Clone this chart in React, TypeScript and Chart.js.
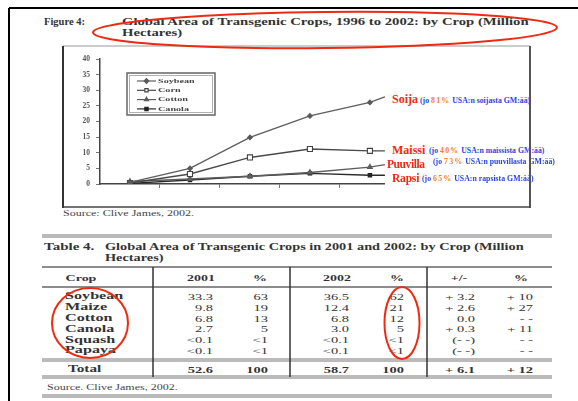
import React, { useEffect, useRef } from "react";
import { Chart, registerables } from "chart.js";
import { drawPoint } from "chart.js/helpers";
Chart.register(...registerables);

// ---- chart data ----
const years = [1996, 1997, 1998, 1999, 2000];
const lineEndYear = 2000.25; // lines run on to the axis end
const seriesNames = ["Soybean", "Corn", "Cotton", "Canola"];
const soybean = [0.5, 5.0, 14.9, 21.8, 26.1, 27.9];
const corn = [0.3, 3.2, 8.5, 11.2, 10.6, 10.6];
const cotton = [0.8, 1.6, 2.5, 3.7, 5.4, 6.2];
const canola = [0.2, 1.3, 2.5, 3.4, 2.8, 2.8];
const yMax = 40;
const yStep = 5;

// ---- annotation data ----
const annNames = ["Soija", "Maissi", "Puuvilla", "Rapsi"];
const annPct = ["81", "40", "73", "65"];
const annWords = ["soijasta", "maissista", "puuvillasta", "rapsista"];

// ---- table data ----
const tableCrops = ["Soybean", "Maize", "Cotton", "Canola", "Squash", "Papaya"];
const area2001 = ["33.3", "9.8", "6.8", "2.7", "<0.1", "<0.1"];
const pct2001 = ["63", "19", "13", "5", "<1", "<1"];
const area2002 = ["36.5", "12.4", "6.8", "3.0", "<0.1", "<0.1"];
const pct2002 = ["62", "21", "12", "5", "<1", "<1"];
const changeAbs = ["+ 3.2", "+ 2.6", "0.0", "+ 0.3", "(- -)", "(- -)"];
const changePct = ["+ 10", "+ 27", "- -", "+ 11", "- -", "- -"];
const totalRow = ["Total", "52.6", "100", "58.7", "100", "+ 6.1", "+ 12"];
const headers = ["Crop", "2001", "%", "2002", "%", "+/-", "%"];

const SERIF = "'Liberation Serif', 'Times New Roman', serif";
const RED = "#ee2a12";
const BLUE = "#2a46e0";
const ORANGE = "#ff7a22";

type TP = {
  x: number; y: number; s: number; w?: number; c?: string; sx?: number;
  a?: "left" | "center" | "right"; ls?: string | number; f?: string; children: any;
};
function T({ x, y, s, w = 700, c = "#222", sx = 1, a = "left", ls, f = SERIF, children }: TP) {
  const tx = a === "center" ? "translateX(-50%) " : a === "right" ? "translateX(-100%) " : "";
  return (
    <div
      style={{
        position: "absolute", left: x, top: y - s * 0.6, fontSize: s, lineHeight: `${s * 1.2}px`,
        fontWeight: w, color: c, fontFamily: f, whiteSpace: "nowrap",
        transform: `${tx}scaleX(${sx})`, transformOrigin: a === "center" ? "center" : a === "right" ? "right" : "left",
        letterSpacing: ls,
      }}
    >
      {children}
    </div>
  );
}

const insetLegend = {
  id: "insetLegend",
  afterDatasetsDraw(chart: any) {
    const { ctx, chartArea } = chart;
    const x0 = chartArea.left + 27, y0 = chartArea.top + 14, w = 88, h = 42;
    ctx.save();
    ctx.strokeStyle = "#666"; ctx.lineWidth = 1.5; ctx.strokeRect(x0, y0, w, h);
    ctx.strokeStyle = "#b0b0b0"; ctx.lineWidth = 1; ctx.strokeRect(x0 + 2.5, y0 + 2.5, w - 5, h - 5);
    chart.data.datasets.forEach((ds: any, i: number) => {
      const yy = y0 + 8 + i * 9.3;
      ctx.strokeStyle = ds.borderColor; ctx.lineWidth = 1.2;
      ctx.beginPath(); ctx.moveTo(x0 + 10, yy); ctx.lineTo(x0 + 29, yy); ctx.stroke();
      ctx.fillStyle = ds.pointBackgroundColor; ctx.strokeStyle = ds.pointBorderColor;
      drawPoint(ctx, { pointStyle: ds.pointStyle, radius: 2.3, borderWidth: 1, rotation: 0 } as any, x0 + 19.5, yy);
      ctx.save();
      ctx.translate(x0 + 31, yy);
      ctx.scale(1.45, 1);
      ctx.fillStyle = "#444"; ctx.font = `bold 7px ${SERIF}`; ctx.textBaseline = "middle";
      ctx.fillText(ds.label, 0, 0);
      ctx.restore();
    });
    ctx.restore();
  },
};

function LineChart() {
  const ref = useRef<HTMLCanvasElement>(null);
  useEffect(() => {
    const xs = [...years, lineEndYear];
    const pts = (arr: number[]) => arr.map((v, i) => ({ x: xs[i], y: v }));
    const radii = (r: number) => xs.map((_, i) => (i < years.length ? r : 0));
    const styles = [
      { style: "rectRot", r: 2.3, fill: "#5a5a5a", border: "#5a5a5a", color: "#5e5e5e" },
      { style: "rect", r: 3.6, fill: "#ffffff", border: "#444", color: "#4a4a4a" },
      { style: "triangle", r: 2.8, fill: "#666", border: "#5a5a5a", color: "#5e5e5e" },
      { style: "rect", r: 2.4, fill: "#222", border: "#222", color: "#2a2a2a" },
    ];
    const series = [soybean, corn, cotton, canola];
    const chart = new Chart(ref.current as HTMLCanvasElement, {
      type: "line",
      data: {
        datasets: series.map((arr, i) => ({
          label: seriesNames[i],
          data: pts(arr),
          borderColor: styles[i].color,
          borderWidth: 1.4,
          pointStyle: styles[i].style as any,
          pointRadius: radii(styles[i].r),
          pointBackgroundColor: styles[i].fill,
          pointBorderColor: styles[i].border,
          pointBorderWidth: 1.1,
          tension: 0,
          xAxisID: "x",
        })),
      },
      options: {
        animation: false,
        responsive: false,
        devicePixelRatio: 1,
        layout: { padding: { top: 12, right: 5, bottom: 6, left: 0 } },
        plugins: { legend: { display: false }, tooltip: { enabled: false } },
        scales: {
          x: {
            type: "linear", min: 1995.5, max: lineEndYear, weight: 1,
            afterBuildTicks: (s: any) => { s.ticks = years.map((v) => ({ value: v })); },
            ticks: { padding: 2, color: "#444", font: { family: SERIF, size: 7, weight: "bold" }, callback: (v: any) => String(v) },
            grid: { display: false }, border: { display: false },
            afterFit: (s: any) => { s.height = 12; },
          },
          x2: {
            type: "linear", position: "bottom", min: 1995.5, max: lineEndYear, weight: 0,
            afterBuildTicks: (s: any) => { s.ticks = years.slice(0, -1).map((v) => ({ value: v + 0.5 })); },
            ticks: { display: false },
            grid: { drawOnChartArea: false, tickLength: 4, color: "#777" },
            border: { display: true, color: "#444", width: 1.5 },
            afterFit: (s: any) => { s.height = 4; },
          },
          y: {
            min: 0, max: yMax,
            ticks: { stepSize: yStep, padding: 6, color: "#555", font: { family: SERIF, size: 7.5, weight: "bold" } },
            grid: { drawOnChartArea: false, tickLength: 4, color: "#777" },
            border: { color: "#444", width: 1.5 },
            afterFit: (s: any) => { s.width = 36; },
          },
        } as any,
      },
      plugins: [insetLegend],
    });
    return () => chart.destroy();
  }, []);
  return (
    <canvas ref={ref} width={326} height={159}
      style={{ position: "absolute", left: 64, top: 47, width: 326, height: 159 }} />
  );
}

function DoubleLine({ x1, x2, y, c = "#777" }: { x1: number; x2: number; y: number; c?: string }) {
  return (
    <g stroke={c} strokeWidth={1}>
      <line x1={x1} x2={x2} y1={y - 1} y2={y - 1} />
      <line x1={x1} x2={x2} y1={y + 1} y2={y + 1} />
    </g>
  );
}

export default function App() {
  const rowY = (i: number) => 297 + i * 10.8;
  const totalY = 370;
  const colRight = [213, 268, 349, 404, 475, 533];
  const colVals = [area2001, pct2001, area2002, pct2002, changeAbs, changePct];
  const headX = [81, 201, 260, 337, 397, 459, 521];
  const annY = [99, 150, 165, 179];
  const annX = [392, 392, 387, 392];
  const annSize = [12, 12, 11.5, 11.5];
  const annLs = [0, 0, -0.4, -0.2];
  const subX = [420, 429, 433, 422];
  const subY = [100.5, 150.5, 161.5, 179];
  const tableText = "#333";
  return (
    <div style={{ position: "absolute", left: 0, top: 0, width: 578, height: 401, background: "#fff", overflow: "hidden", fontFamily: SERIF }}>
      {/* Figure heading */}
      <T x={44} y={22} s={10} sx={1.05} c="#333">Figure 4:</T>
      <T x={122} y={22} s={10} sx={1.47} c="#333">Global Area of Transgenic Crops, 1996 to 2002: by Crop (Million</T>
      <T x={122} y={33} s={10} sx={1.47} c="#333">Hectares)</T>

      <LineChart />
      <T x={63} y={214} s={8} w={400} sx={1.5} c="#444">Source:  Clive James, 2002.</T>

      {/* annotations */}
      {annNames.map((n, i) => (
        <React.Fragment key={n}>
          <T x={annX[i]} y={annY[i]} s={annSize[i]} c={RED} ls={annLs[i]}>{n}</T>
          <T x={subX[i]} y={subY[i]} s={7.8} c={BLUE}>
            (jo <span style={{ color: ORANGE, letterSpacing: 1.2 }}>{annPct[i]}%</span> USA:n {annWords[i]} GM:ää)
          </T>
        </React.Fragment>
      ))}

      {/* Table */}
      <T x={44} y={247} s={10} sx={1.5} c="#333">Table 4.</T>
      <T x={105} y={247} s={10} sx={1.43} c="#333">Global Area of Transgenic Crops in 2001 and 2002:  by Crop (Million</T>
      <T x={105} y={258} s={10} sx={1.43} c="#333">Hectares)</T>
      {headers.map((h, i) => (
        <T key={"h" + i} x={headX[i]} y={278} s={9} sx={1.55} a="center" c={tableText}>{h}</T>
      ))}
      {tableCrops.map((c, r) => (
        <React.Fragment key={c}>
          <T x={65} y={rowY(r)} s={9.5} sx={1.7} c={tableText}>{c}</T>
          {colVals.map((col, k) => (
            <T key={k} x={colRight[k]} y={rowY(r)} s={8.5} w={400} sx={1.7} a="right" c={tableText}>{col[r]}</T>
          ))}
        </React.Fragment>
      ))}
      <T x={68} y={totalY} s={9.5} sx={1.6} c={tableText}>{totalRow[0]}</T>
      {totalRow.slice(1).map((v, k) => (
        <T key={"t" + k} x={colRight[k]} y={totalY} s={8.5} sx={1.7} a="right" c={tableText}>{v}</T>
      ))}
      <T x={47} y={388} s={8} w={400} sx={1.5} c="#444">Source.  Clive James, 2002.</T>

      <svg width={578} height={401} style={{ position: "absolute", left: 0, top: 0, pointerEvents: "none" }}>
        {/* page frame */}
        <line x1={9} x2={578} y1={8} y2={8} stroke="#000" strokeWidth={2} />
        <line x1={9} x2={9} y1={8} y2={401} stroke="#000" strokeWidth={2} />
        {/* chart box */}
        <line x1={63} x2={530} y1={46} y2={46} stroke="#999" strokeWidth={1.2} />
        <line x1={63} x2={63} y1={46} y2={208} stroke="#333" strokeWidth={2} />
        <line x1={530} x2={530} y1={46} y2={208} stroke="#555" strokeWidth={2} />
        <line x1={63} x2={530} y1={207} y2={207} stroke="#444" strokeWidth={1.5} />
        {/* table rules */}
        <DoubleLine x1={42} x2={552} y={236} />
        <line x1={42} x2={552} y1={267} y2={267} stroke="#666" strokeWidth={1.5} />
        <line x1={42} x2={552} y1={287} y2={287} stroke="#666" strokeWidth={1.5} />
        <DoubleLine x1={42} x2={552} y={360} />
        <DoubleLine x1={42} x2={552} y={377} />
        <DoubleLine x1={42} x2={552} y={396} />
        {[153, 290, 427].map((x) => (
          <line key={x} x1={x} x2={x} y1={267} y2={377} stroke="#333" strokeWidth={1.5} />
        ))}
        {/* red highlight ellipses */}
        <ellipse cx={325} cy={30} rx={232} ry={18} fill="none" stroke={RED} strokeWidth={2} transform="rotate(-0.6 325 30)" />
        <ellipse cx={90} cy={323} rx={38} ry={35} fill="none" stroke={RED} strokeWidth={2} />
        <ellipse cx={402} cy={323} rx={17.5} ry={36} fill="none" stroke={RED} strokeWidth={2} />
      </svg>
    </div>
  );
}
